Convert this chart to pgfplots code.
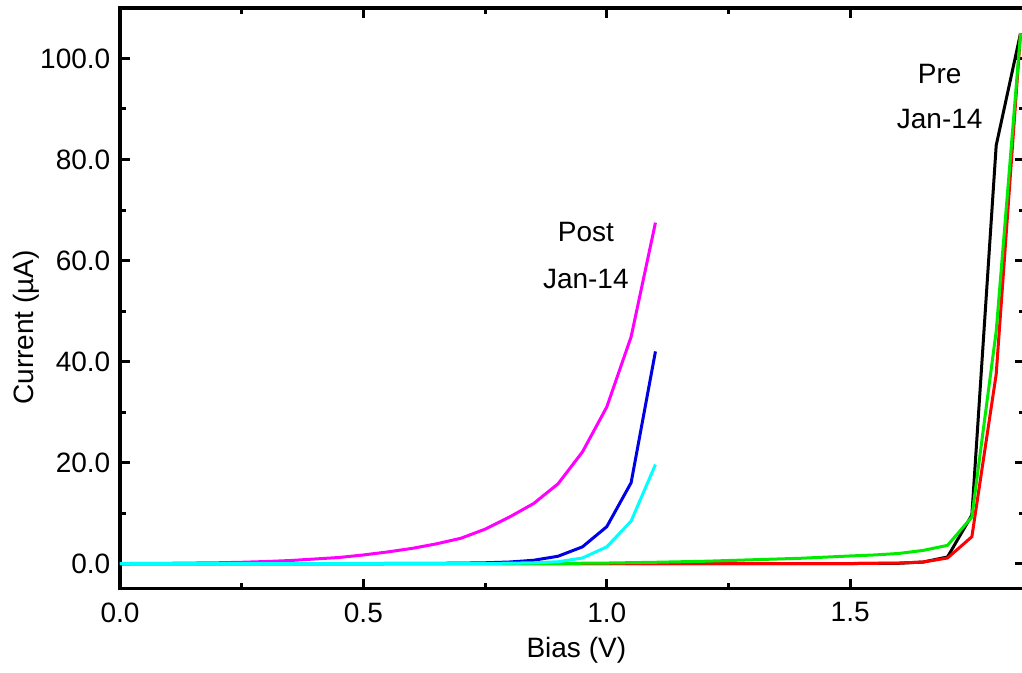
\documentclass[border=0pt]{standalone}
\usepackage{fontspec}
\setmainfont{Liberation Sans}
\usepackage{pgfplots}
\pgfplotsset{compat=1.18}
\definecolor{mygreen}{RGB}{0,235,0}
\definecolor{myblue}{RGB}{0,0,230}
\definecolor{mymagenta}{RGB}{255,0,255}
\definecolor{mycyan}{RGB}{0,255,255}
\definecolor{myred}{RGB}{255,0,0}
\begin{document}
\begin{tikzpicture}
\fontsize{14}{16}\selectfont
\begin{axis}[
  scale only axis,
  width=452.7pt, height=290.4pt,
  xmin=0, xmax=1.86, ymin=-5, ymax=110,
  xtick={0,0.5,1.0,1.5}, ytick={0,20,40,60,80,100},
  minor x tick num=1, minor y tick num=1,
  tick align=inside,
  major tick length=5pt, minor tick length=3pt,
  every tick/.style={line width=1.5pt, black},
  axis line style={line width=1.6pt},
  tick label style={font=\fontsize{14}{16}\selectfont},
  label style={font=\fontsize{14}{16}\selectfont},
  /pgf/number format/assume math mode=true,
  xticklabel style={yshift=-2pt,/pgf/number format/.cd,fixed,fixed zerofill,precision=1},
  yticklabel style={/pgf/number format/.cd,fixed,fixed zerofill,precision=1},
  scaled ticks=false,
  xlabel={Bias (V)}, ylabel={Current (µA)},
  xlabel style={at={(axis description cs:0.504,-0.105)}, anchor=center},
  ylabel style={at={(axis description cs:-0.104,0.45)}, anchor=center},
  every axis plot/.append style={line width=1.5pt, mark=none},
]
% Pre black
\addplot[black] coordinates {(0,0) (0.5,0) (1.0,0) (1.5,0) (1.6,0.05) (1.65,0.3) (1.7,1.3) (1.75,9.6) (1.8,82.8) (1.85,105)};
% Pre red
\addplot[myred] coordinates {(0,0) (0.5,0) (1.0,0) (1.5,0) (1.55,0.05) (1.6,0.1) (1.65,0.3) (1.7,1.1) (1.75,5.3) (1.8,37.5) (1.85,105)};
% Pre green
\addplot[mygreen] coordinates {(0,0) (0.5,0) (0.9,0.02) (1.0,0.1) (1.1,0.25) (1.2,0.45) (1.3,0.75) (1.4,1.05) (1.5,1.5) (1.55,1.7) (1.6,2.0) (1.65,2.6) (1.7,3.6) (1.75,9.2) (1.8,46) (1.85,105)};
% Post magenta
\addplot[mymagenta] coordinates {(0,0) (0.05,0.02) (0.1,0.05) (0.15,0.1) (0.2,0.15) (0.25,0.25) (0.3,0.4) (0.35,0.6) (0.4,0.9) (0.45,1.2) (0.5,1.7) (0.55,2.3) (0.6,3.0) (0.65,3.9) (0.7,5.0) (0.75,6.8) (0.8,9.2) (0.85,11.9) (0.9,15.8) (0.95,22.1) (1.0,31.0) (1.05,44.9) (1.1,67.5)};
% Post blue
\addplot[myblue] coordinates {(0,0) (0.5,0) (0.6,0.02) (0.65,0.04) (0.7,0.08) (0.75,0.15) (0.8,0.3) (0.85,0.65) (0.9,1.45) (0.95,3.3) (1.0,7.3) (1.05,16.0) (1.1,42.0)};
% Post cyan
\addplot[mycyan] coordinates {(0,0) (0.5,0) (0.7,0.01) (0.75,0.03) (0.8,0.07) (0.85,0.15) (0.9,0.35) (0.95,1.1) (1.0,3.3) (1.05,8.4) (1.1,19.6)};
\node at (axis cs:0.957,65.7) {Post};
\node at (axis cs:0.957,56.4) {Jan-14};
\node at (axis cs:1.684,97.0) {Pre};
\node at (axis cs:1.684,88.1) {Jan-14};
\end{axis}
\pgfresetboundingbox
\path[use as bounding box] ([xshift=-60pt,yshift=-42pt]current axis.south west) rectangle ([xshift=-1.7pt,yshift=4pt]current axis.north east);
\end{tikzpicture}
\end{document}
